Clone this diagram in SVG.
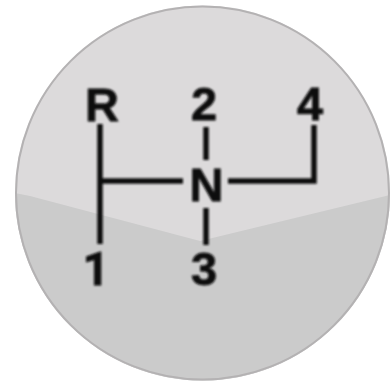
<svg xmlns="http://www.w3.org/2000/svg" width="390" height="383" viewBox="0 0 390 383">
<style>
.l{font-family:"Liberation Sans",Arial,sans-serif;font-weight:700;font-size:47px;fill:#0c0c0c;stroke:#0c0c0c;stroke-width:.8;text-anchor:middle}
.o{font-family:Roboto,"Liberation Sans",sans-serif}
.c{fill:none;stroke:#0c0c0c;stroke-width:5.500}
</style>
<defs><clipPath id="cp"><circle cx="202.500" cy="193" r="187.500"/></clipPath><filter id="b" x="-5%" y="-5%" width="110%" height="110%"><feGaussianBlur stdDeviation="0.8"/></filter></defs>
<g id="dial">
<circle cx="202.500" cy="193" r="187.500" fill="#dcdadb"/>
<path clip-path="url(#cp)" d="M0 190L30 196L200 241L390 195V383H0Z" fill="#cbcbcb"/>
<circle cx="202.500" cy="193" r="186.500" fill="none" stroke="#b4b2b3" stroke-width="2"/>
</g>
<g id="connectors" filter="url(#b)">
<path class="c" d="M100 124V244"/>
<path class="c" d="M100 181H183"/>
<path class="c" d="M228 181H314V125"/>
<path class="c" d="M206 127V160"/>
<path class="c" d="M206 208V245"/>
</g>
<g id="labels" filter="url(#b)">
<g id="node-r"><text class="l" x="102" y="121">R</text></g>
<g id="node-2"><text class="l" x="204" y="120">2</text></g>
<g id="node-4"><text class="l" x="310" y="120">4</text></g>
<g id="node-n"><text class="l" x="206.500" y="201">N</text></g>
<g id="node-1"><text class="l o" x="96" y="285">1</text></g>
<g id="node-3"><text class="l" x="204" y="285">3</text></g>
</g>
</svg>
